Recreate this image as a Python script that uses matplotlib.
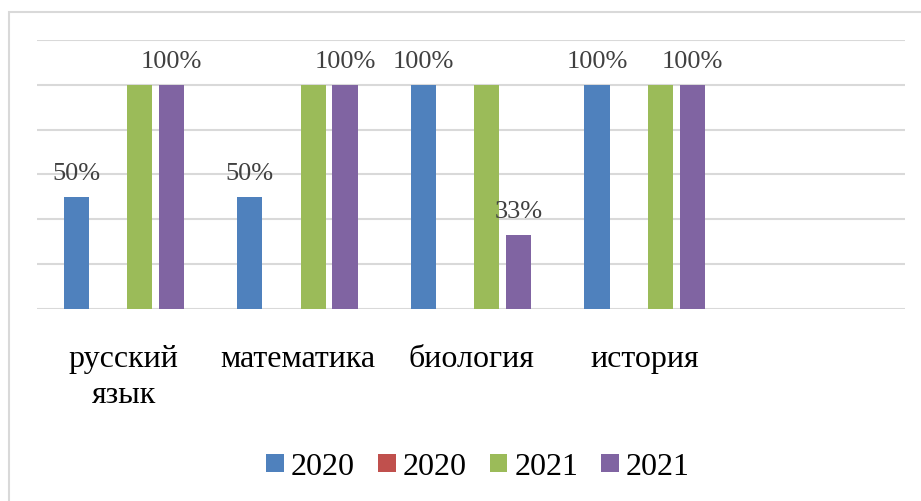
import matplotlib
matplotlib.use("Agg")
import matplotlib.pyplot as plt
from matplotlib.patches import Rectangle, Patch
import numpy as np

categories = ["русский\nязык", "математика", "биология", "история", ""]
series_names = ["2020", "2020", "2021", "2021"]
s2020a = [0.50, 0.50, 1.00, 1.00, np.nan]
s2020b = [0.0, 0.0, 0.0, 0.0, np.nan]
s2021a = [1.00, 1.00, 1.00, 1.00, np.nan]
s2021b = [1.00, 1.00, 0.33, 1.00, np.nan]
show_labels = [True, False, False, True]
colors = ["#4F81BD", "#C0504D", "#9BBB59", "#8064A2"]

plt.rcParams['font.family'] = ['Liberation Serif', 'DejaVu Serif']

W, H = 921, 502
fig = plt.figure(figsize=(W / 100, H / 100), dpi=100)

# outer chart frame
fig.patches.append(Rectangle((8.5 / W, -0.1), 1.2, 1 - 12.5 / H + 0.1, transform=fig.transFigure,
                             fill=False, edgecolor="#D9D9D9", linewidth=1.5))

ax = fig.add_axes([37 / W, (H - 309.5) / H, 868 / W, 268.5 / H])
ax.set_xlim(-0.5, len(categories) - 0.5)
ax.set_ylim(0, 1.2)
for s in ax.spines.values():
    s.set_visible(False)
ax.set_yticks(np.arange(0, 1.21, 0.2))
ax.yaxis.grid(True, color="#D9D9D9", linewidth=1.5)
ax.set_axisbelow(True)
ax.tick_params(left=False, labelleft=False, bottom=False, labelbottom=False)

data = [s2020a, s2020b, s2021a, s2021b]
step = 0.183
width = 0.145
x = np.arange(len(categories))
for i, (vals, c) in enumerate(zip(data, colors)):
    offs = (i - 1.5) * step
    bars = ax.bar(x + offs, vals, width, color=c, zorder=2)
    if show_labels[i]:
        for xi, v in zip(x, vals):
            if np.isnan(v):
                continue
            ax.annotate(f"{round(v * 100):.0f}%", (xi + offs, v), xytext=(0, 12.5),
                        textcoords="offset points", ha="center", va="baseline",
                        fontsize=19, color="#404040")

for xi, lab in zip(x, categories):
    ax.text(xi, (309.5 - 345) / 268.5, lab, transform=ax.get_xaxis_transform(),
            ha="center", va="top", fontsize=23, color="#000000", linespacing=1.32)

handles = [Patch(facecolor=c, edgecolor="none") for c in colors]
fig.legend(handles, series_names, loc="center", bbox_to_anchor=(478 / W, 1 - 468 / H),
           ncol=4, frameon=False, fontsize=23, handlelength=0.55, handleheight=0.5,
           handletextpad=0.22, columnspacing=0.72, borderaxespad=0)

fig.savefig("out.png", dpi=100)
